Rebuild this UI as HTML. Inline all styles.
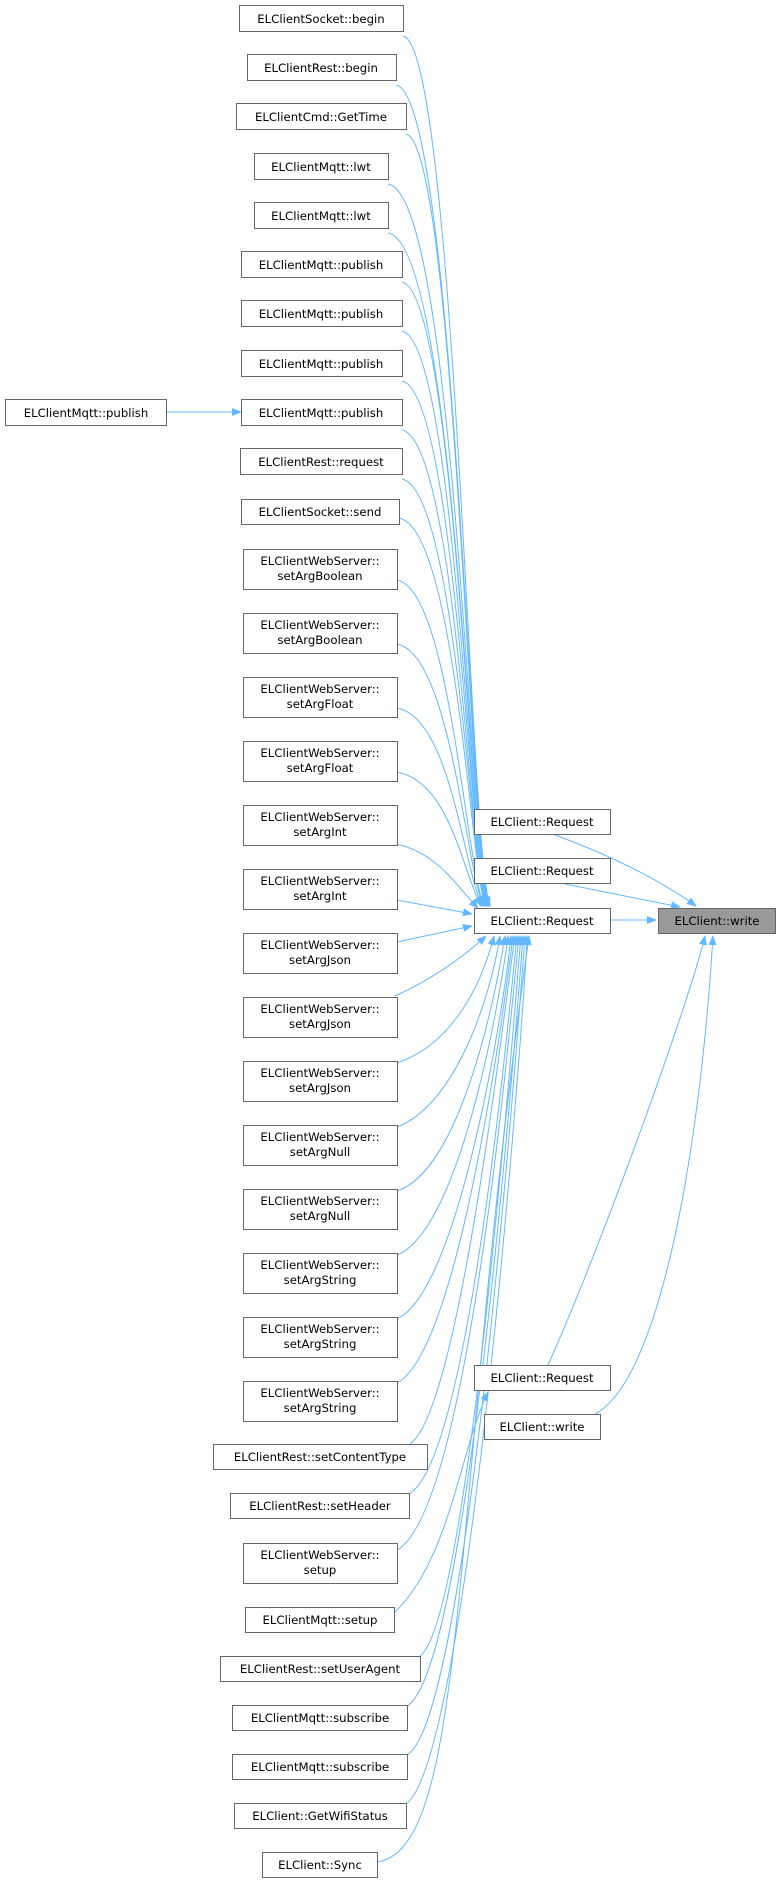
<!DOCTYPE html>
<html><head><meta charset="utf-8"><style>
html,body{margin:0;padding:0;background:#fff;}
svg{display:block;}
text{font-family:"DejaVu Sans","Liberation Sans",sans-serif;font-size:11.7px;fill:#000;text-anchor:middle;}
.b{fill:#fff;stroke:#666;stroke-width:1;}
.e{fill:none;stroke:#63b8ff;stroke-width:1;}
</style></head><body>
<svg width="780" height="1887" viewBox="0 0 780 1887" xmlns="http://www.w3.org/2000/svg">
<defs><marker id="a" markerWidth="10" markerHeight="8" refX="9" refY="4" orient="auto" markerUnits="userSpaceOnUse"><path d="M0,0 L10,4 L0,8 z" fill="#63b8ff"/></marker></defs>
<g class="e" marker-end="url(#a)">
<path d="M403,36 C455,46 470,860 490,906"/>
<path d="M396,85 C455,95 470,860 490,906"/>
<path d="M406,134 C455,144 470,860 489,906"/>
<path d="M388,184 C455,194 470,860 489,906"/>
<path d="M388,233 C455,243 470,860 488,906"/>
<path d="M402,282 C455,292 470,860 488,906"/>
<path d="M402,331 C455,341 470,860 487,906"/>
<path d="M402,381 C455,391 470,860 487,906"/>
<path d="M402,430 C455,440 470,860 486,906"/>
<path d="M402,479 C455,489 470,860 486,906"/>
<path d="M399,518 C455,528 470,860 485,906"/>
<path d="M397,580 C450,590 465,860 484,906"/>
<path d="M397,644 C450,654 465,860 483,906"/>
<path d="M397,708 C450,718 462,860 482,906"/>
<path d="M397,772 C450,782 462,870 481,906"/>
<path d="M397,844 C440,855 455,885 478,908"/>
<path d="M397,900 L472,914"/>
<path d="M397,942 L472,926"/>
<path d="M395,996 C430,980 460,960 486,936"/>
<path d="M397,1063 C450,1045 480,990 494,936"/>
<path d="M397,1127 C455,1105 490,1000 500,936"/>
<path d="M397,1191 C460,1170 495,1000 505,936"/>
<path d="M397,1255 C460,1230 500,1000 508,936"/>
<path d="M397,1319 C460,1290 505,1000 511,936"/>
<path d="M397,1383 C460,1350 505,1000 513,936"/>
<path d="M410,1444 C460,1410 505,1000 515,936"/>
<path d="M409,1494 C470,1460 510,1000 517,936"/>
<path d="M397,1550 C470,1510 512,1000 519,936"/>
<path d="M420,1656 C470,1620 515,1000 521,936"/>
<path d="M407,1706 C470,1670 518,1000 523,936"/>
<path d="M407,1755 C470,1720 520,1000 525,936"/>
<path d="M406,1804 C470,1760 525,1000 527,936"/>
<path d="M377,1862 C470,1850 450,1500 529,936"/>
<path d="M394,1613 C450,1560 460,1450 488,1392"/>
<path d="M166,412 L241,412"/>
<path d="M555,835 C610,855 660,880 696,906"/>
<path d="M565,884 L680,907"/>
<path d="M611,920 L656,920"/>
<path d="M548,1365 C600,1250 690,1000 705,936"/>
<path d="M595,1414 C660,1380 700,1150 713,936"/>
</g>
<g>
<rect class="b" x="239.5" y="5.5" width="164" height="26"/><text x="321" y="23">ELClientSocket::begin</text>
<rect class="b" x="247.5" y="54.5" width="149" height="26"/><text x="321" y="72">ELClientRest::begin</text>
<rect class="b" x="236.5" y="103.5" width="170" height="26"/><text x="321" y="121">ELClientCmd::GetTime</text>
<rect class="b" x="254.5" y="153.5" width="134" height="26"/><text x="321" y="171">ELClientMqtt::lwt</text>
<rect class="b" x="254.5" y="202.5" width="134" height="26"/><text x="321" y="220">ELClientMqtt::lwt</text>
<rect class="b" x="241.5" y="251.5" width="161" height="26"/><text x="321" y="269">ELClientMqtt::publish</text>
<rect class="b" x="241.5" y="300.5" width="161" height="26"/><text x="321" y="318">ELClientMqtt::publish</text>
<rect class="b" x="241.5" y="350.5" width="161" height="26"/><text x="321" y="368">ELClientMqtt::publish</text>
<rect class="b" x="241.5" y="399.5" width="161" height="26"/><text x="321" y="417">ELClientMqtt::publish</text>
<rect class="b" x="5.5" y="399.5" width="161" height="26"/><text x="86" y="417">ELClientMqtt::publish</text>
<rect class="b" x="240.5" y="448.5" width="162" height="26"/><text x="321" y="466">ELClientRest::request</text>
<rect class="b" x="241.5" y="499.5" width="158" height="25"/><text x="320" y="516">ELClientSocket::send</text>
<rect class="b" x="243.5" y="549.5" width="154" height="40"/><text x="320" y="565">ELClientWebServer::</text><text x="320" y="580">setArgBoolean</text>
<rect class="b" x="243.5" y="613.5" width="154" height="40"/><text x="320" y="629">ELClientWebServer::</text><text x="320" y="644">setArgBoolean</text>
<rect class="b" x="243.5" y="677.5" width="154" height="40"/><text x="320" y="693">ELClientWebServer::</text><text x="320" y="708">setArgFloat</text>
<rect class="b" x="243.5" y="741.5" width="154" height="40"/><text x="320" y="757">ELClientWebServer::</text><text x="320" y="772">setArgFloat</text>
<rect class="b" x="243.5" y="805.5" width="154" height="40"/><text x="320" y="821">ELClientWebServer::</text><text x="320" y="836">setArgInt</text>
<rect class="b" x="243.5" y="869.5" width="154" height="40"/><text x="320" y="885">ELClientWebServer::</text><text x="320" y="900">setArgInt</text>
<rect class="b" x="243.5" y="933.5" width="154" height="40"/><text x="320" y="949">ELClientWebServer::</text><text x="320" y="964">setArgJson</text>
<rect class="b" x="243.5" y="997.5" width="154" height="40"/><text x="320" y="1013">ELClientWebServer::</text><text x="320" y="1028">setArgJson</text>
<rect class="b" x="243.5" y="1061.5" width="154" height="40"/><text x="320" y="1077">ELClientWebServer::</text><text x="320" y="1092">setArgJson</text>
<rect class="b" x="243.5" y="1125.5" width="154" height="40"/><text x="320" y="1141">ELClientWebServer::</text><text x="320" y="1156">setArgNull</text>
<rect class="b" x="243.5" y="1189.5" width="154" height="40"/><text x="320" y="1205">ELClientWebServer::</text><text x="320" y="1220">setArgNull</text>
<rect class="b" x="243.5" y="1253.5" width="154" height="40"/><text x="320" y="1269">ELClientWebServer::</text><text x="320" y="1284">setArgString</text>
<rect class="b" x="243.5" y="1317.5" width="154" height="40"/><text x="320" y="1333">ELClientWebServer::</text><text x="320" y="1348">setArgString</text>
<rect class="b" x="243.5" y="1381.5" width="154" height="40"/><text x="320" y="1397">ELClientWebServer::</text><text x="320" y="1412">setArgString</text>
<rect class="b" x="213.5" y="1444.5" width="214" height="25"/><text x="320" y="1461">ELClientRest::setContentType</text>
<rect class="b" x="230.5" y="1493.5" width="179" height="25"/><text x="320" y="1510">ELClientRest::setHeader</text>
<rect class="b" x="243.5" y="1543.5" width="154" height="40"/><text x="320" y="1559">ELClientWebServer::</text><text x="320" y="1574">setup</text>
<rect class="b" x="245.5" y="1607.5" width="149" height="25"/><text x="320" y="1624">ELClientMqtt::setup</text>
<rect class="b" x="220.5" y="1656.5" width="200" height="25"/><text x="320" y="1673">ELClientRest::setUserAgent</text>
<rect class="b" x="232.5" y="1705.5" width="175" height="25"/><text x="320" y="1722">ELClientMqtt::subscribe</text>
<rect class="b" x="232.5" y="1754.5" width="175" height="25"/><text x="320" y="1771">ELClientMqtt::subscribe</text>
<rect class="b" x="234.5" y="1803.5" width="172" height="25"/><text x="320" y="1820">ELClient::GetWifiStatus</text>
<rect class="b" x="262.5" y="1852.5" width="115" height="25"/><text x="320" y="1869">ELClient::Sync</text>
<rect class="b" x="474.5" y="809.5" width="136" height="25"/><text x="542" y="826">ELClient::Request</text>
<rect class="b" x="474.5" y="858.5" width="136" height="25"/><text x="542" y="875">ELClient::Request</text>
<rect class="b" x="474.5" y="908.5" width="136" height="25"/><text x="542" y="925">ELClient::Request</text>
<rect x="658.5" y="908.5" width="117" height="25" fill="#999" stroke="#666"/><text x="717" y="925">ELClient::write</text>
<rect class="b" x="474.5" y="1365.5" width="136" height="25"/><text x="542" y="1382">ELClient::Request</text>
<rect class="b" x="484.5" y="1414.5" width="116" height="25"/><text x="542" y="1431">ELClient::write</text>
</g>
</svg>
</body></html>
